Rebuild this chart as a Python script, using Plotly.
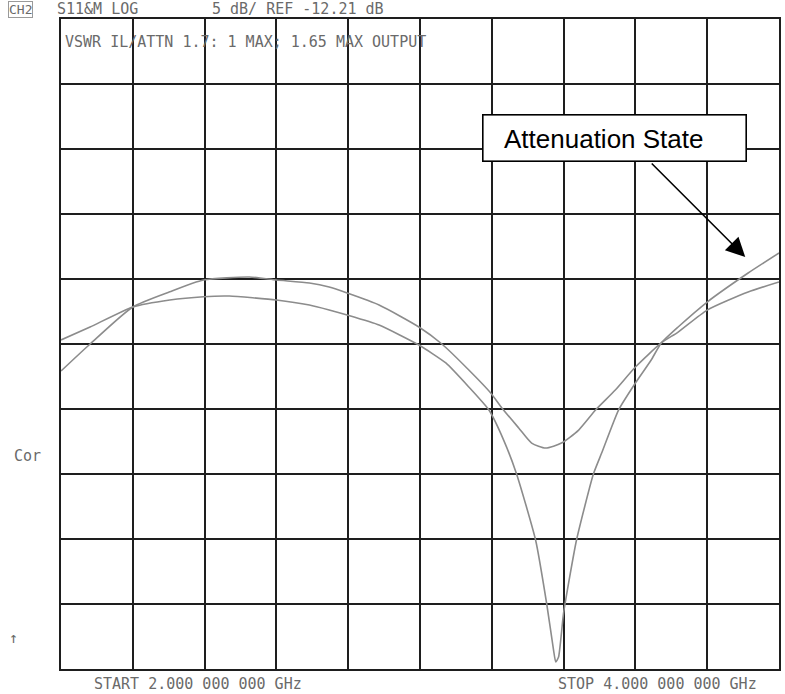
import plotly.graph_objects as go

# ---------------- data ----------------
freq_through = [2.000, 2.081, 2.200, 2.303, 2.397, 2.525, 2.600, 2.692, 2.747, 2.797,
                2.886, 2.997, 3.061, 3.136, 3.197, 3.228, 3.275, 3.311, 3.350, 3.394,
                3.442, 3.489, 3.544, 3.600, 3.672, 3.719, 3.800, 3.914, 4.000]
db_through = [-24.29, -22.21, -19.36, -18.19, -17.29, -17.06, -17.29, -17.52, -17.83, -18.29,
              -19.21, -20.90, -22.21, -24.21, -25.98, -27.13, -28.67, -29.83, -30.21, -29.83,
              -28.83, -27.29, -25.75, -23.98, -22.13, -21.29, -19.60, -18.21, -17.44]

freq_atten = [2.000, 2.081, 2.200, 2.303, 2.397, 2.469, 2.600, 2.692, 2.747, 2.797,
              2.886, 2.997, 3.072, 3.136, 3.192, 3.233, 3.269, 3.322, 3.353, 3.372,
              3.378, 3.386, 3.400, 3.436, 3.483, 3.506, 3.553, 3.600, 3.644, 3.672,
              3.719, 3.800, 3.914, 4.000]
db_atten = [-21.90, -20.90, -19.36, -18.82, -18.57, -18.52, -18.82, -19.21, -19.59, -19.98,
            -20.75, -22.29, -23.67, -25.52, -27.29, -29.60, -32.21, -37.29, -42.21, -45.75,
            -46.67, -46.29, -42.90, -37.29, -32.21, -30.60, -27.29, -25.21, -23.44, -22.13,
            -20.90, -18.98, -16.75, -15.21]

f_start, f_stop = 2.0, 4.0          # GHz
ref_db, db_per_div = -12.21, 5.0    # dB
ref_div_from_top = 3
n_div = 10

header_texts = ["S11&M LOG", "5 dB/ REF -12.21 dB"]
info_text = "VSWR IL/ATTN 1.7: 1 MAX; 1.65 MAX OUTPUT"
start_text = "START 2.000 000 000 GHz"
stop_text = "STOP 4.000 000 000 GHz"
callout_text = "Attenuation State"
callout_target = (3.906, -15.52)

# ---------------- layout helpers ----------------
W, H = 785, 694
L, R, T, B = 61, 781, 19, 669
def px(x):
    return (x - L) / (R - L)
def py(y):
    return (B - y) / (B - T)

y_top = ref_db + ref_div_from_top * db_per_div
y_bot = y_top - n_div * db_per_div

trace_color = "#8c8c8c"
grid_color = "#1e1e1e"
plot_font = dict(family="DejaVu Sans Mono", size=15, color="#6a6a6a")

fig = go.Figure()
fig.add_trace(go.Scatter(x=freq_through, y=db_through, mode="lines",
                         line=dict(color=trace_color, width=1.6, shape="spline", smoothing=0.6),
                         name="Through state"))
fig.add_trace(go.Scatter(x=freq_atten, y=db_atten, mode="lines",
                         line=dict(color=trace_color, width=1.6, shape="spline", smoothing=0.5),
                         name="Attenuation state"))

fig.update_layout(
    width=W, height=H,
    margin=dict(l=L, r=W - R, t=T, b=H - B, pad=0),
    paper_bgcolor="white", plot_bgcolor="white",
    showlegend=False,
    xaxis=dict(range=[f_start, f_stop], dtick=(f_stop - f_start) / n_div, tick0=f_start,
               showgrid=True, gridcolor=grid_color, gridwidth=1.6,
               showticklabels=False, ticks="", zeroline=False,
               showline=True, linecolor=grid_color, linewidth=1.8, mirror=True),
    yaxis=dict(range=[y_bot, y_top], dtick=db_per_div, tick0=ref_db,
               showgrid=True, gridcolor=grid_color, gridwidth=1.6,
               showticklabels=False, ticks="", zeroline=False,
               showline=True, linecolor=grid_color, linewidth=1.8, mirror=True),
)

ann = []
ann.append(dict(xref="paper", yref="paper", x=px(8), y=py(9), xanchor="left", yanchor="middle",
                text="CH2", showarrow=False, font=dict(family="DejaVu Sans Mono", size=13, color="#6a6a6a"),
                bordercolor="#9a9a9a", borderwidth=1, borderpad=0))
ann.append(dict(xref="paper", yref="paper", x=px(55), y=py(9), xanchor="left", yanchor="middle",
                text=header_texts[0], showarrow=False, font=plot_font))
ann.append(dict(xref="paper", yref="paper", x=px(210), y=py(9), xanchor="left", yanchor="middle",
                text=header_texts[1], showarrow=False, font=plot_font))
ann.append(dict(xref="paper", yref="paper", x=px(63), y=py(42), xanchor="left", yanchor="middle",
                text=info_text, showarrow=False, font=plot_font))
ann.append(dict(xref="paper", yref="paper", x=px(12), y=py(456), xanchor="left", yanchor="middle",
                text="Cor", showarrow=False, font=plot_font))
ann.append(dict(xref="paper", yref="paper", x=px(13), y=py(638), xanchor="center", yanchor="middle",
                text="↑", showarrow=False, font=dict(family="DejaVu Sans Mono", size=15, color="#6a6a6a")))
ann.append(dict(xref="paper", yref="paper", x=px(92), y=py(684), xanchor="left", yanchor="middle",
                text=start_text, showarrow=False, font=plot_font))
ann.append(dict(xref="paper", yref="paper", x=px(557), y=py(684), xanchor="left", yanchor="middle",
                text=stop_text, showarrow=False, font=plot_font))

# callout box
ann.append(dict(xref="paper", yref="paper", x=px(483), y=py(114), xanchor="left", yanchor="top",
                text=" ", showarrow=False, width=262, height=45, bgcolor="white",
                bordercolor="black", borderwidth=1.6, borderpad=0))
ann.append(dict(xref="paper", yref="paper", x=px(503), y=py(139), xanchor="left", yanchor="middle",
                text=callout_text, showarrow=False,
                font=dict(family="Liberation Sans", size=26, color="black")))
# callout arrow
ann.append(dict(xref="x", yref="y", x=callout_target[0], y=callout_target[1],
                ax=-95, ay=-95, axref="pixel", ayref="pixel", text="", showarrow=True,
                arrowhead=2, arrowsize=2.4, arrowwidth=1.6, arrowcolor="black", standoff=0))

fig.update_layout(annotations=ann)
fig.write_html("out.html", config={"displayModeBar": False},
               post_script="document.body.style.margin='0';document.body.style.overflow='hidden';")
